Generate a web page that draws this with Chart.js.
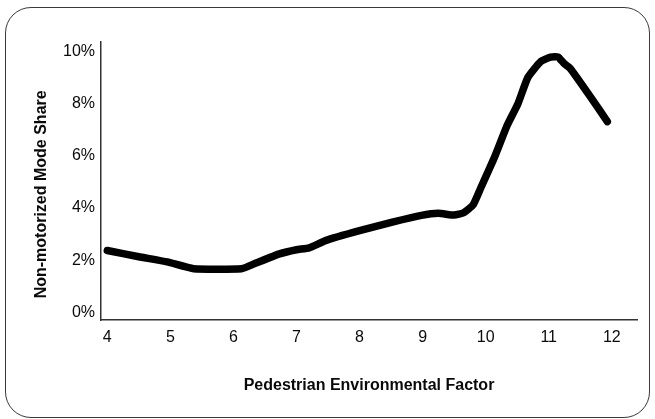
<!DOCTYPE html>
<html>
<head>
<meta charset="utf-8">
<script src="https://cdn.jsdelivr.net/npm/chart.js@4"></script>
<style>
  html, body { margin: 0; padding: 0; background: #fff; }
  body { width: 655px; height: 419px; position: relative; overflow: hidden; }
  #box { position: absolute; left: 5px; top: 7px; width: 645px; height: 411px; box-sizing: border-box;
         border: 1.5px solid #3a3a3a; border-radius: 26px; }
  #wrap { position: absolute; left: 0; top: 0; width: 655px; height: 419px; }
</style>
</head>
<body>
<div id="box"></div>
<div id="wrap"><canvas id="c" width="655" height="419"></canvas></div>
<script>
// Data
const pefValues   = [4.0, 4.5, 4.95, 5.37, 6.13, 6.33, 6.73, 7.0, 7.2, 7.46, 8.0, 8.52, 8.98, 9.25, 9.5, 9.65, 9.8, 9.92, 10.14, 10.34, 10.51, 10.67, 10.87, 11.03, 11.15, 11.24, 11.34, 11.64, 11.93];
const shareValues = [2.37, 2.13, 1.93, 1.67, 1.67, 1.86, 2.24, 2.40, 2.47, 2.75, 3.13, 3.46, 3.72, 3.80, 3.73, 3.82, 4.12, 4.76, 5.95, 7.17, 8.0, 9.02, 9.62, 9.80, 9.80, 9.56, 9.37, 8.35, 7.32];
const xTickValues = [4, 5, 6, 7, 8, 9, 10, 11, 12];
const yTickValues = [0, 2, 4, 6, 8, 10];
const xTitle = 'Pedestrian Environmental Factor';
const yTitle = 'Non-motorized Mode Share';

const points = pefValues.map((x, i) => ({ x: x, y: shareValues[i] }));
const FONT = '"Liberation Sans", Arial, Helvetica, sans-serif';

new Chart(document.getElementById('c'), {
  type: 'line',
  data: {
    datasets: [{
      data: points,
      borderColor: '#000',
      borderWidth: 7.5,
      borderCapStyle: 'round',
      borderJoinStyle: 'round',
      pointRadius: 0,
      tension: 0.15,
      fill: false
    }]
  },
  options: {
    responsive: false,
    animation: false,
    devicePixelRatio: 1,
    layout: { padding: { left: 0, right: 18, top: 42, bottom: 0 } },
    plugins: { legend: { display: false }, tooltip: { enabled: false } },
    scales: {
      x: {
        type: 'linear',
        min: 3.9,
        max: 12.4,
        afterBuildTicks: (s) => { s.ticks = xTickValues.map(v => ({ value: v })); },
        afterFit: (s) => { s.height = 99; },
        grid: { display: false, drawTicks: false },
        border: { display: true, color: '#333', width: 1.5 },
        ticks: { color: '#0a0a0a', padding: 8, font: { family: FONT, size: 16 }, maxRotation: 0 },
        title: { display: true, text: xTitle, color: '#0a0a0a', font: { family: FONT, size: 16, weight: 'bold' }, padding: { top: 0, bottom: 23.9 } }
      },
      y: {
        type: 'linear',
        min: -0.3,
        max: 10.38,
        afterBuildTicks: (s) => { s.ticks = yTickValues.map(v => ({ value: v })); },
        afterFit: (s) => { s.width = 101; },
        grid: { display: false, drawTicks: false },
        border: { display: true, color: '#333', width: 1.5 },
        ticks: { color: '#0a0a0a', padding: 6, font: { family: FONT, size: 16 }, callback: (v) => v + '%' },
        title: { display: true, text: yTitle + '\u00a0\u00a0\u00a0\u00a0\u00a0\u00a0', color: '#0a0a0a', font: { family: FONT, size: 16, weight: 'bold' }, padding: { top: 32.4, bottom: 0 } }
      }
    }
  }
});
</script>
</body>
</html>
